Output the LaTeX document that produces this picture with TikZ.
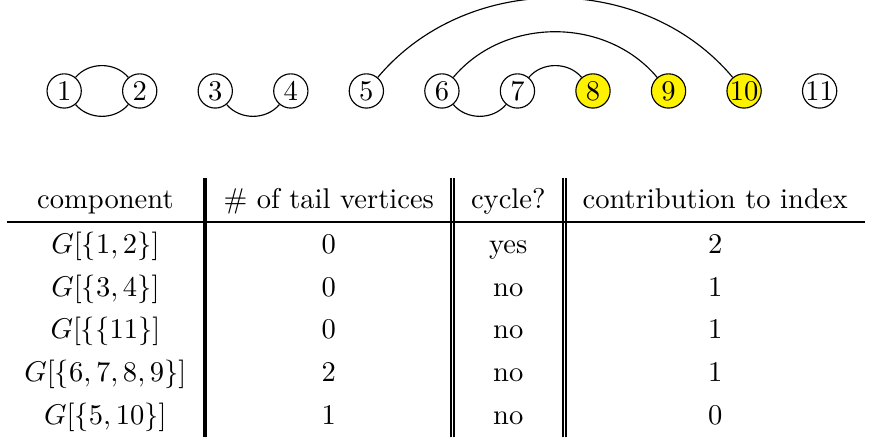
\documentclass[tikz,border=0pt]{standalone}
\usepackage{amssymb}
\usepackage{tikz}
\renewcommand{\arraystretch}{1.25}
\setlength{\arrayrulewidth}{0.7pt}
\setlength{\doublerulesep}{1pt}

\begin{document}
\begin{tikzpicture}[vertex/.style={circle,draw,inner sep=0pt,minimum size=12pt},
  tail/.style={vertex,fill=yellow}]
\useasboundingbox (0,0) rectangle (10.71,5.44);

\foreach \i in {1,...,7} \node [vertex] (v\i) at ({0.79+0.93*(\i-1)},4.32) {$\i$};
\foreach \i in {8,9,10} \node [tail] (v\i) at ({0.79+0.93*(\i-1)},4.32) {$\i$};
\node [vertex] (v11) at (10.09,4.32) {$11$};

\draw (v1) to[bend left=50] (v2);
\draw (v1) to[bend right=50] (v2);
\draw (v3) to[bend right=50] (v4);
\draw (v5) to[bend left=50] (v10);
\draw (v6) to[bend left=50] (v9);
\draw (v6) to[bend right=50] (v7);
\draw (v7) to[bend left=50] (v8);

\node [anchor=north west,inner sep=0pt] (tbl) at (0.0825,3.25) {%
\begin{tabular}{c||c||c||c}
component & \# of tail vertices & cycle? & contribution to index \\ \hline
$G[\{1,2\}]$ & 0 & yes & 2 \\
$G[\{3,4\}]$ & 0 & no & 1 \\
$G[\{\{11\}]$ & 0 & no & 1 \\
$G[\{6,7,8,9\}]$ & 2 & no & 1 \\
$G[\{5,10\}]$ & 1 & no & 0
\end{tabular}};
\end{tikzpicture}
\end{document}
